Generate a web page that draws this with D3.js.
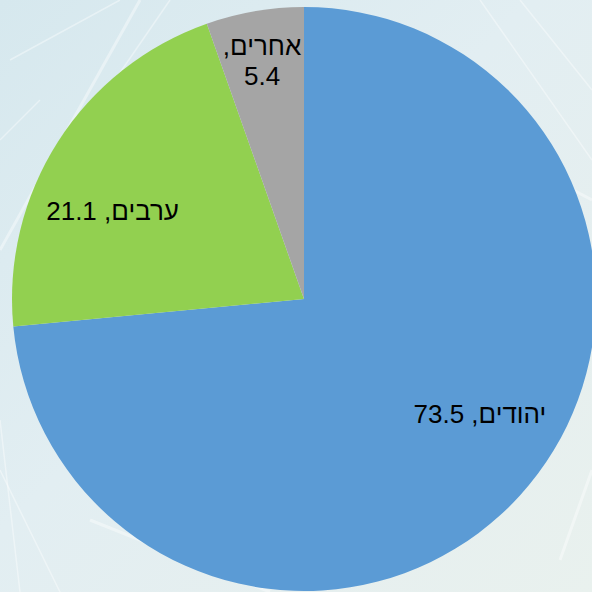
<!DOCTYPE html>
<html lang="he">
<head>
<meta charset="utf-8">
<script src="https://cdn.jsdelivr.net/npm/d3@7"></script>
<style>
  html, body { margin: 0; padding: 0; background: #e3eef1; }
  svg { display: block; }
</style>
</head>
<body>
<svg id="chart" width="592" height="592"></svg>
<script>
// ---- data ----
const categories = ["יהודים", "ערבים", "אחרים"];
const values = [73.5, 21.1, 5.4];
const sliceColors = ["#5B9BD5", "#92D050", "#A5A5A5"];
// label lines per slice (rendered RTL)
const labelLines = [["יהודים, 73.5"], ["ערבים, 21.1"], ["אחרים,", "5.4"]];

// ---- layout ----
const W = 592, H = 592;
const cx = 304, cy = 299, R = 292;
// label placement: radius (px) and angle nudge (deg) relative to slice mid-angle
const labelPlace = [
  { r: 210.5, da: -9.0 },
  { r: 210.5, da: -8.0 },
  { r: 241, da: -0.3 }
];

const svg = d3.select("#chart");

// background texture approximation
const defs = svg.append("defs");
const bg = defs.append("linearGradient").attr("id", "bg")
  .attr("x1", "0").attr("y1", "0").attr("x2", "1").attr("y2", "1");
bg.append("stop").attr("offset", "0%").attr("stop-color", "#d6e8ee");
bg.append("stop").attr("offset", "45%").attr("stop-color", "#e2eef2");
bg.append("stop").attr("offset", "75%").attr("stop-color", "#e6efef");
bg.append("stop").attr("offset", "100%").attr("stop-color", "#e9f1ee");
svg.append("rect").attr("width", W).attr("height", H).attr("fill", "url(#bg)");

const deco = svg.append("g").attr("stroke", "#ffffff").attr("fill", "none");
const decoLines = [
  [[0, 250], [140, 0]], [[20, 592], [0, 420]], [[60, 592], [0, 470]],
  [[90, 520], [270, 592]], [[480, 0], [592, 160]], [[520, 0], [592, 90]],
  [[440, 120], [592, 200]], [[10, 60], [120, 0]], [[170, 0], [60, 160]],
  [[560, 560], [592, 470]], [[0, 140], [40, 100]]
];
decoLines.forEach((l, i) => {
  deco.append("line")
    .attr("x1", l[0][0]).attr("y1", l[0][1]).attr("x2", l[1][0]).attr("y2", l[1][1])
    .attr("stroke-width", i % 3 === 0 ? 3 : 1.5).attr("stroke-opacity", 0.4);
});

// ---- pie ----
const pie = d3.pie().sort(null).value(d => d)(values);
const arc = d3.arc().innerRadius(0).outerRadius(R);

const g = svg.append("g").attr("transform", `translate(${cx},${cy})`);
g.selectAll("path.slice").data(pie).enter().append("path")
  .attr("class", "slice")
  .attr("d", arc)
  .attr("fill", (d, i) => sliceColors[i]);

// ---- labels ----
const lineH = 29.5;
pie.forEach((d, i) => {
  const mid = (d.startAngle + d.endAngle) / 2 + labelPlace[i].da * Math.PI / 180;
  const la = d3.arc().innerRadius(labelPlace[i].r).outerRadius(labelPlace[i].r);
  const [x, y] = la.centroid({ startAngle: mid, endAngle: mid });
  const lines = labelLines[i];
  const t = g.append("text")
    .attr("x", x).attr("y", y)
    .attr("direction", "rtl")
    .attr("text-anchor", "middle")
    .attr("font-family", "Arial, 'Liberation Sans', sans-serif")
    .attr("font-size", 26)
    .attr("fill", "#000");
  const y0 = 8.5 - (lines.length - 1) * lineH / 2;
  lines.forEach((s, k) => {
    t.append("tspan").attr("x", x).attr("y", y + y0 + k * lineH)
      .attr("direction", "rtl").text(s);
  });
});
</script>
</body>
</html>
